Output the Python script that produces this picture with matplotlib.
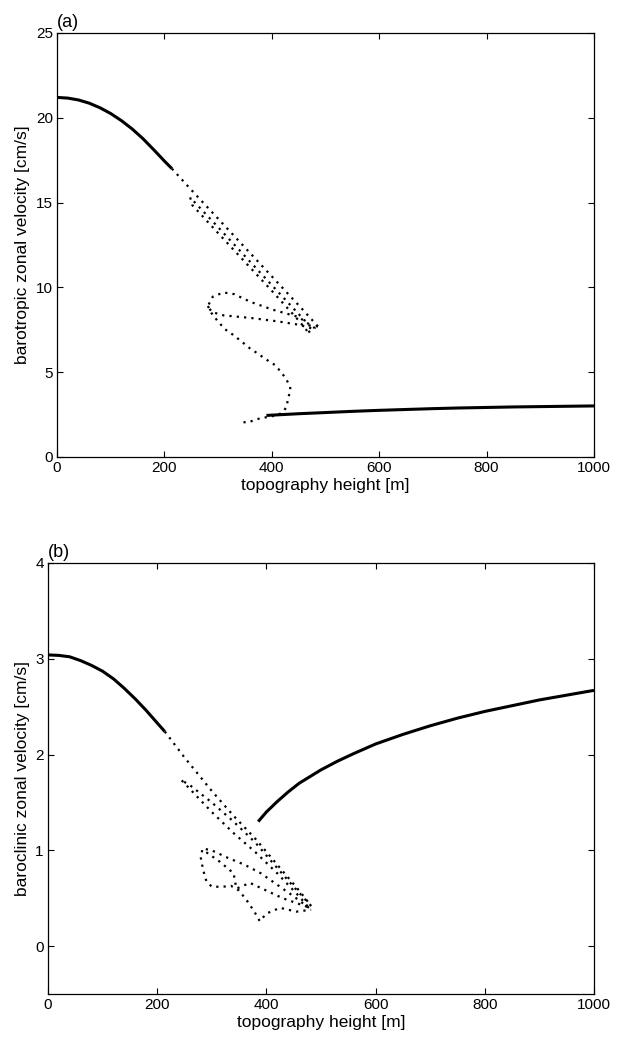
import matplotlib
matplotlib.use("Agg")
import matplotlib.pyplot as plt

plt.rcParams['font.family'] = ['Liberation Sans', 'DejaVu Sans']

# ---------------- Panel (a): barotropic zonal velocity ----------------
a_stable_upper_x = [0, 20, 40, 60, 80, 100, 120, 140, 160, 180, 200, 214]
a_stable_upper_y = [21.2, 21.16, 21.05, 20.86, 20.59, 20.25, 19.83, 19.34, 18.77, 18.12, 17.45, 17.0]

a_stable_lower_x = [390, 420, 450, 500, 550, 600, 650, 700, 750, 800, 850, 900, 950, 1000]
a_stable_lower_y = [2.45, 2.50, 2.55, 2.62, 2.69, 2.75, 2.80, 2.85, 2.89, 2.92, 2.95, 2.97, 2.99, 3.01]

# unstable (dotted) branches
a_dot_1_x = [214, 250, 300, 350, 400, 450, 486]
a_dot_1_y = [17.0, 15.75, 14.05, 12.35, 10.65, 8.95, 7.7]
a_dot_2_x = [486, 470, 420, 360, 300, 248]
a_dot_2_y = [7.7, 7.75, 9.45, 11.5, 13.55, 15.3]
a_dot_3_x = [248, 252, 300, 350, 400, 450, 468]
a_dot_3_y = [15.3, 14.85, 13.2, 11.5, 9.8, 8.05, 7.35]
a_dot_4_x = [468, 480, 450, 400, 360, 330, 310, 290, 281, 288, 310, 360, 410, 450, 478]
a_dot_4_y = [7.35, 7.6, 8.25, 8.7, 9.15, 9.6, 9.7, 9.45, 8.9, 8.55, 8.35, 8.2, 8.0, 7.8, 7.55]
a_dot_5_x = [281, 288, 300, 313, 328, 344, 359, 375, 391, 406, 415, 426, 434, 435, 430, 428, 421, 412, 397, 378, 365, 353, 345]
a_dot_5_y = [8.9, 8.47, 7.98, 7.53, 7.2, 6.8, 6.41, 6.07, 5.72, 5.42, 5.09, 4.64, 4.15, 3.9, 3.46, 2.97, 2.67, 2.48, 2.38, 2.28, 2.14, 2.02, 2.08]

# ---------------- Panel (b): baroclinic zonal velocity ----------------
b_stable_left_x = [0, 20, 40, 60, 80, 100, 120, 140, 160, 180, 200, 214]
b_stable_left_y = [3.04, 3.035, 3.02, 2.98, 2.93, 2.87, 2.79, 2.69, 2.58, 2.46, 2.33, 2.24]

b_stable_right_x = [385, 400, 420, 440, 460, 480, 500, 530, 560, 600, 650, 700, 750, 800, 850, 900, 950, 1000]
b_stable_right_y = [1.30, 1.40, 1.51, 1.61, 1.70, 1.77, 1.84, 1.93, 2.01, 2.11, 2.21, 2.30, 2.38, 2.45, 2.51, 2.57, 2.62, 2.67]

b_dot_1_x = [214, 250, 300, 340, 380, 420, 460, 482]
b_dot_1_y = [2.24, 1.97, 1.62, 1.36, 1.12, 0.85, 0.58, 0.42]
b_dot_2_x = [482, 450, 410, 380, 340, 300, 260, 245]
b_dot_2_y = [0.42, 0.62, 0.88, 1.08, 1.30, 1.50, 1.68, 1.73]
b_dot_3_x = [245, 270, 300, 340, 380, 420, 460, 478]
b_dot_3_y = [1.73, 1.58, 1.40, 1.18, 0.98, 0.76, 0.52, 0.40]
b_dot_4_x = [478, 450, 420, 390, 360, 330, 300, 283, 280, 284, 290, 300, 320, 335, 350, 365, 378, 388, 400, 425, 455, 482]
b_dot_4_y = [0.40, 0.52, 0.64, 0.76, 0.85, 0.92, 1.00, 1.02, 0.92, 0.80, 0.68, 0.62, 0.62, 0.63, 0.58, 0.47, 0.36, 0.26, 0.34, 0.40, 0.36, 0.38]
b_dot_5_x = [290, 315, 340, 345, 370, 400, 430, 460, 480]
b_dot_5_y = [0.98, 0.88, 0.76, 0.60, 0.66, 0.58, 0.50, 0.44, 0.40]

a_yticks = [0, 5, 10, 15, 20, 25]
b_yticks = [0, 1, 2, 3, 4]
xticks = [0, 200, 400, 600, 800, 1000]

fig = plt.figure(figsize=(6.23, 10.40), dpi=100)
axa = fig.add_axes([0.0915, 0.5606, 0.8619, 0.4077])
axb = fig.add_axes([0.0770, 0.0442, 0.8764, 0.4145])

dot_style = dict(color='black', linewidth=1.6, linestyle=(0, (1, 2.3)), dash_capstyle='butt')
solid_style = dict(color='black', linewidth=2.2, solid_capstyle='butt', solid_joinstyle='round')

axa.plot(a_stable_upper_x, a_stable_upper_y, **solid_style)
axa.plot(a_stable_lower_x, a_stable_lower_y, **solid_style)
for xs, ys in [(a_dot_1_x, a_dot_1_y), (a_dot_2_x, a_dot_2_y), (a_dot_3_x, a_dot_3_y),
               (a_dot_4_x, a_dot_4_y), (a_dot_5_x, a_dot_5_y)]:
    axa.plot(xs, ys, **dot_style)

axb.plot(b_stable_left_x, b_stable_left_y, **solid_style)
axb.plot(b_stable_right_x, b_stable_right_y, **solid_style)
for xs, ys in [(b_dot_1_x, b_dot_1_y), (b_dot_2_x, b_dot_2_y), (b_dot_3_x, b_dot_3_y),
               (b_dot_4_x, b_dot_4_y), (b_dot_5_x, b_dot_5_y)]:
    axb.plot(xs, ys, **dot_style)

axa.set_xlim(0, 1000)
axa.set_ylim(0, 25)
axa.set_yticks(a_yticks)
axb.set_xlim(0, 1000)
axb.set_ylim(-0.5, 4)
axb.set_yticks(b_yticks)

for ax in (axa, axb):
    ax.set_xticks(xticks)
    ax.tick_params(direction='in', top=True, right=True, length=4, width=0.8,
                   labelsize=11, pad=3)
    for s in ax.spines.values():
        s.set_linewidth(0.9)
    ax.set_xlabel('topography height [m]', fontsize=12.5, labelpad=2)

axa.set_ylabel('barotropic zonal velocity [cm/s]', fontsize=12.5, labelpad=4)
axb.set_ylabel('baroclinic zonal velocity [cm/s]', fontsize=12.5, labelpad=4)

axa.text(0.0, 1.005, '(a)', transform=axa.transAxes, fontsize=13, ha='left', va='bottom')
axb.text(0.0, 1.005, '(b)', transform=axb.transAxes, fontsize=13, ha='left', va='bottom')

fig.savefig('out.png', dpi=100)
